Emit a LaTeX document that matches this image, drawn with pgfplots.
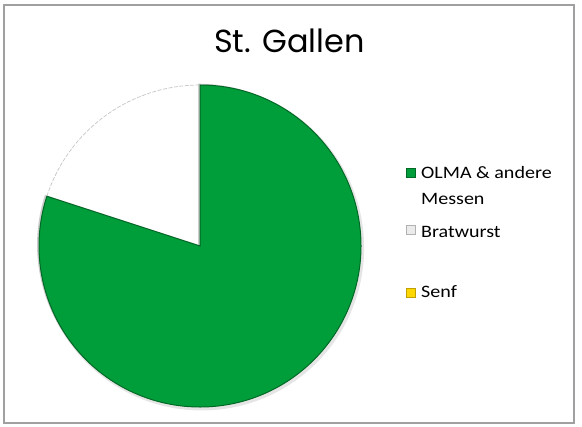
\documentclass[border=0pt]{standalone}
\usepackage{pgfplots}
\pgfplotsset{compat=1.18}
\usepackage{pgfplotstable}
\usepackage{fontspec}
\setmainfont{Carlito}
\newfontfamily\legfont{Carlito}[FakeStretch=1.15]
\newfontfamily\titlefont{Poppins}

\definecolor{olma}{RGB}{0,158,58}
\definecolor{olmadark}{RGB}{0,105,38}
\definecolor{senf}{RGB}{255,215,0}
\definecolor{senfdark}{RGB}{190,160,0}
\definecolor{frame}{RGB}{160,160,160}

% share of each part (percent)
\pgfplotstableread{
part value
OLMA 80
Bratwurst 20
Senf 0
}\piedata
\pgfplotstablegetelem{0}{value}\of\piedata \edef\vA{\pgfplotsretval}
\pgfplotstablegetelem{1}{value}\of\piedata \edef\vB{\pgfplotsretval}
\pgfplotstablegetelem{2}{value}\of\piedata \edef\vC{\pgfplotsretval}
% slices start at 12 o'clock and run clockwise
\pgfmathsetmacro\aA{90-3.6*\vA}
\pgfmathsetmacro\aB{\aA-3.6*\vB}
\def\R{161bp}

\begin{document}
\begin{tikzpicture}[x=1bp,y=1bp]
\path[use as bounding box] (0,0) rectangle (582,426);
\draw[frame, line width=1.5bp] (4,3) rectangle (574,421);

\begin{axis}[
    at={(200bp,180bp)}, anchor=center,
    x=\R, y=\R,
    xmin=-1, xmax=1, ymin=-1, ymax=1,
    hide axis, clip=false,
]
% soft shadow under the pie
\fill[black!10] (axis cs:0.01,-0.012) circle[radius=162.5bp];
% Bratwurst
\fill[white] (axis cs:0,0) -- (axis cs:{cos(\aA)},{sin(\aA)})
    arc[start angle=\aA, end angle=\aB, radius=\R] -- cycle;
\draw[black!22, line width=0.7bp, dash pattern=on 4bp off 1.5bp]
    (axis cs:{cos(\aA)},{sin(\aA)}) arc[start angle=\aA, end angle=\aB, radius=\R];
% OLMA & andere Messen
\fill[black!20] (axis cs:-0.012,0.008) -- (axis cs:-0.012,1.008)
    arc[start angle=90, end angle=\aA, radius=\R] -- cycle;
\fill[olma, draw=olmadark, line width=1bp] (axis cs:0,0) -- (axis cs:0,1)
    arc[start angle=90, end angle=\aA, radius=\R] -- cycle;
\end{axis}

% title
\node[anchor=base, inner sep=0pt] at (289.5,374)
    {\titlefont\fontsize{32}{36}\selectfont St. Gallen};

% legend
\begin{scope}[every node/.style={anchor=base west, inner sep=0pt,
    font=\legfont\fontsize{17.5}{21}\selectfont}]
\fill[olma, draw=olmadark, line width=0.6bp] (406,249) rectangle (415,258);
\node at (421,248) {OLMA \& andere};
\node at (421,222) {Messen};
\fill[black!8, draw=black!30, line width=0.6bp] (406,192) rectangle (415,201);
\node at (421,189) {Bratwurst};
\fill[senf, draw=senfdark, line width=0.6bp] (406,129) rectangle (415,138);
\node at (421,129) {Senf};
\end{scope}
\end{tikzpicture}
\end{document}
